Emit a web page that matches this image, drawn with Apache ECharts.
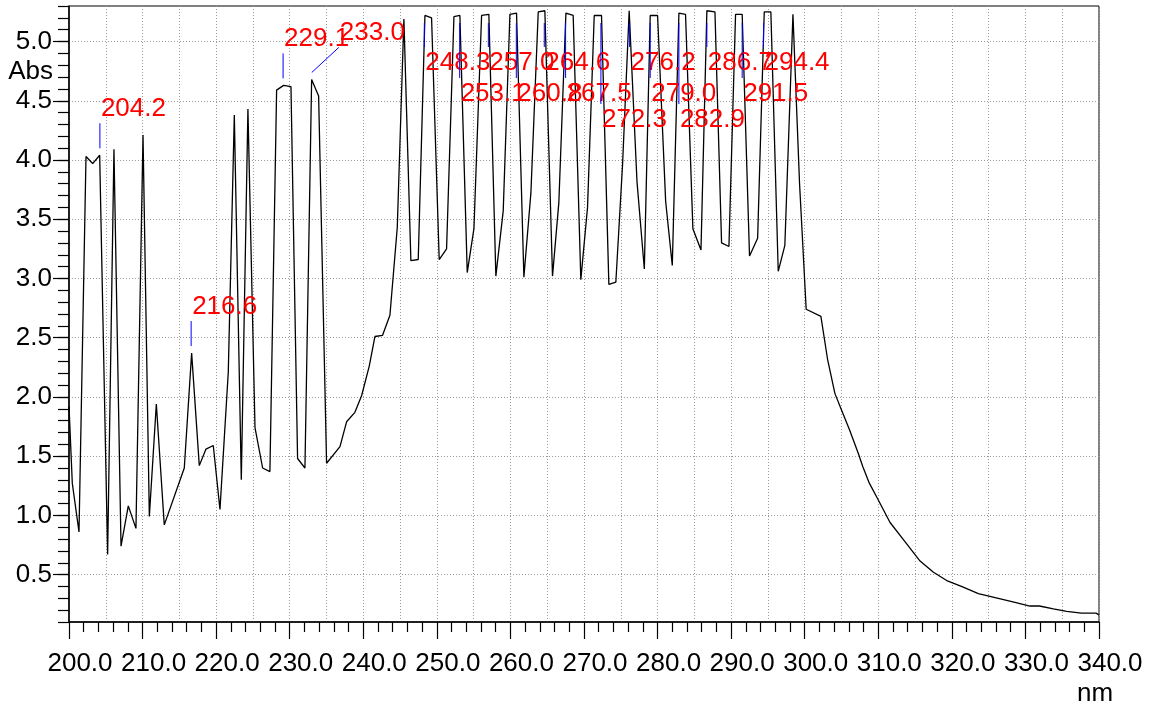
<!DOCTYPE html>
<html><head><meta charset="utf-8">
<script src="https://cdn.jsdelivr.net/npm/echarts@6/dist/echarts.min.js"></script>
<style>html,body{margin:0;padding:0;background:#fff}#c{width:1162px;height:711px}</style>
</head><body><div id="c"></div>
<script>
// ---------------- DATA ----------------
const wavelengths = [
200.0,200.45,201.36,202.31,203.22,204.17,205.25,206.11,207.07,208.06,209.1,210.06,210.92,211.87,212.95,215.67,216.67,217.71,218.62,219.61,220.52,
221.65,222.47,223.42,224.32,225.28,226.32,227.31,228.22,229.17,230.17,231.07,232.07,232.98,233.93,235.01,236.83,237.73,238.86,239.77,240.81,241.58,242.62,243.62,
244.62,245.52,246.47,247.47,248.38,249.28,250.32,251.32,252.32,253.13,254.13,255.04,256.08,257.07,258.02,259.02,259.93,260.83,261.83,262.78,263.78,264.68,265.72,
266.58,267.54,268.53,269.57,270.48,271.39,272.38,273.38,274.33,275.24,276.14,277.2,278.2,279.0,280.0,281.1,282.0,282.9,283.8,284.8,285.9,286.7,287.8,288.7,289.7,
290.6,291.5,292.5,293.6,294.5,295.4,296.4,297.3,298.4,299.3,300.2,302.2,303.1,304.1,305.0,306.1,307.3,307.9,308.8,310.0,311.6,313.6,315.6,317.5,319.3,321.3,
323.6,325.6,328.3,330.6,331.9,333.8,335.6,337.6,339.6,340.0
];
const absorbance = [
1.92,1.27,0.86,4.03,3.97,4.04,0.67,4.09,0.74,1.08,0.89,4.21,0.99,1.94,0.92,1.40,2.37,1.42,1.56,1.59,1.05,
2.21,4.38,1.30,4.43,1.74,1.40,1.37,4.59,4.63,4.62,1.48,1.40,4.68,4.54,1.44,1.58,1.79,1.87,2.01,2.26,2.51,2.52,2.69,
3.43,5.19,3.15,3.16,5.22,5.20,3.16,3.25,5.21,5.22,3.05,3.42,5.22,5.23,3.02,3.57,5.23,5.24,3.01,3.72,5.25,5.26,3.02,
3.64,5.24,5.22,2.99,3.60,5.22,5.22,2.95,2.97,3.96,5.26,3.82,3.08,5.22,5.22,3.65,3.11,5.24,5.23,3.42,3.24,5.26,5.25,3.30,3.27,
5.23,5.23,3.19,3.34,5.25,5.25,3.06,3.28,5.23,3.80,2.74,2.68,2.32,2.03,1.89,1.72,1.52,1.41,1.27,1.13,0.94,0.78,0.62,0.52,0.45,0.40,
0.34,0.31,0.27,0.235,0.235,0.21,0.19,0.175,0.175,0.16
];
const peakLabels = ['204.2','216.6','229.1','233.0','248.3','253.1','257.0','260.8','264.6','267.5','272.3','276.2','279.0','282.9','286.7','291.5','294.4'];
const peakAbs = [4.04,2.37,4.63,4.68,5.22,5.22,5.23,5.24,5.26,5.24,5.22,5.26,5.22,5.24,5.26,5.23,5.25];
const yTickValues = [0.5,1.0,1.5,2.0,2.5,3.0,3.5,4.0,4.5,5.0];
const xMin = 200, xMax = 340, yMin = 0.1, yMax = 5.3;

// ---------------- LAYOUT (label rows; 0 = just above the peak) ----------------
const labelRow = [0,0,0,0,1,2,1,2,1,2,3,1,2,3,1,2,1];
const labelShift = [0,0,0,27,0,0,0,0,0,0,0,0,0,0,0,0,0];
const rowTextTop = [0,44,75,101];

const lineData = wavelengths.map((w,i)=>[w, absorbance[i]]);
const peakData = peakLabels.map((l,i)=>[parseFloat(l), peakAbs[i], i]);
const FONT = '"Liberation Sans", Arial, sans-serif';
const grid = '#9a9a9a';

const chart = echarts.init(document.getElementById('c'), null, {renderer:'canvas'});
chart.setOption({
  animation:false,
  backgroundColor:'#fff',
  grid:{left:69,right:63,top:6,bottom:89,show:true,borderColor:'#000',borderWidth:1,backgroundColor:'transparent'},
  xAxis:[{
    type:'value',min:xMin,max:xMax,interval:10,position:'bottom',
    axisLine:{show:true,onZero:false,lineStyle:{color:'#000',width:1.5}},
    axisTick:{show:true,inside:false,length:17,lineStyle:{color:'#000',width:1.2}},
    minorTick:{show:true,splitNumber:5,length:10,lineStyle:{color:'#000',width:1.2}},
    axisLabel:{show:true,margin:29,color:'#000',fontSize:26,fontFamily:FONT,padding:[0,0,0,22],
      formatter:v=>v.toFixed(1)},
    splitLine:{show:false}
  },{
    type:'value',min:xMin,max:xMax,interval:5,position:'bottom',
    axisLine:{show:false},axisTick:{show:false},axisLabel:{show:false},
    splitLine:{show:true,lineStyle:{color:grid,width:1,type:[1,2]}}
  }],
  yAxis:[{
    type:'value',min:yMin,max:yMax,position:'left',offset:0,
    axisLine:{show:true,onZero:false,lineStyle:{color:'#000',width:1.5}},
    axisTick:{show:true,inside:false,length:16,customValues:yTickValues,lineStyle:{color:'#000',width:1.2}},
    axisLabel:{show:true,margin:17,color:'#000',fontSize:26,fontFamily:FONT,customValues:yTickValues,
      formatter:v=>v.toFixed(1)},
    splitLine:{show:true,lineStyle:{color:grid,width:1,type:[1,2]}}
  },{
    type:'value',min:yMin,max:yMax,interval:0.1,position:'left',offset:0,
    axisLine:{show:false},axisLabel:{show:false},splitLine:{show:false},
    axisTick:{show:true,inside:false,length:11,lineStyle:{color:'#000',width:1.2}}
  }],
  graphic:[
    {type:'text',style:{text:'Abs',x:53,y:72,align:'right',verticalAlign:'middle',fill:'#000',fontSize:26,fontFamily:FONT}},
    {type:'text',style:{text:'nm',x:1095,y:694,align:'center',verticalAlign:'middle',fill:'#000',fontSize:26,fontFamily:FONT}}
  ],
  series:[{
    type:'line',data:lineData,xAxisIndex:0,yAxisIndex:0,showSymbol:false,symbol:'none',
    lineStyle:{color:'#000',width:1.3},z:3
  },{
    type:'custom',data:peakData,xAxisIndex:0,yAxisIndex:0,z:5,clip:false,
    renderItem:function(params, api){
      const i = api.value(2);
      const p = api.coord([api.value(0), api.value(1)]);
      const top = params.coordSys.y;
      const row = labelRow[i];
      let x0=p[0], y0, x1, y1, tx, ty;
      if(row===0){
        y0 = p[1]-7; x1 = p[0]+labelShift[i]; y1 = p[1]-32;
        tx = x1+1; ty = y1-27.5;
      } else {
        y0 = top+17; x1 = p[0];
        ty = top+rowTextTop[row]; y1 = ty-3; tx = x1+1;
      }
      return {type:'group',children:[
        {type:'line',shape:{x1:x0,y1:y0,x2:x1,y2:y1},style:{stroke:'#0000ff',lineWidth:1}},
        {type:'text',style:{text:peakLabels[i],x:tx,y:ty,align:'left',verticalAlign:'top',fill:'#ff0000',fontSize:26,fontFamily:FONT}}
      ]};
    }
  }]
});
</script></body></html>
